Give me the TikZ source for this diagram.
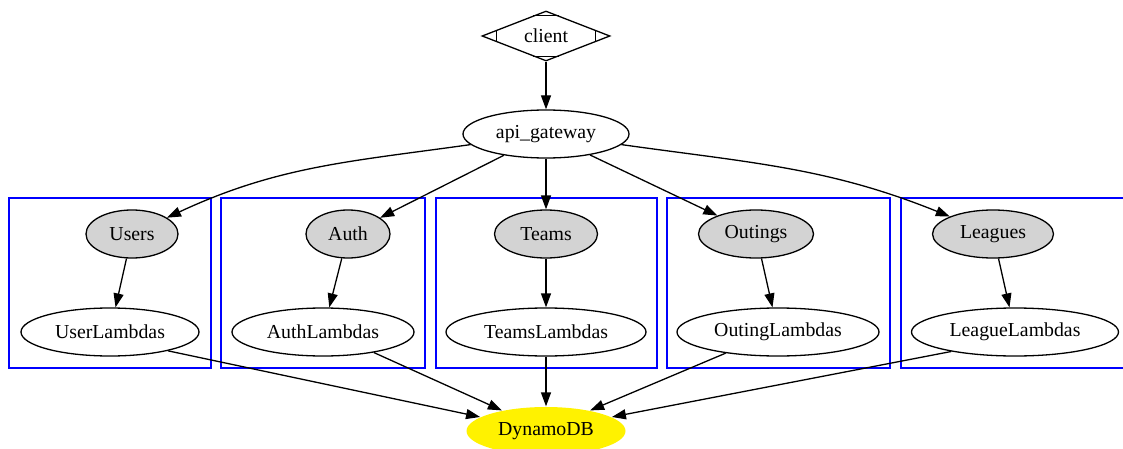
\documentclass[tikz,border=0pt]{standalone}
\usepackage{fontspec}
\setmainfont{Liberation Serif}
\usetikzlibrary{shapes.geometric,arrows.meta}
\definecolor{svcgrey}{RGB}{211,211,211}
\definecolor{grpblue}{RGB}{0,0,255}
\begin{document}
\begin{tikzpicture}[x=1pt, y=1pt, line width=1.3pt,
	every node/.style={font=\fontsize{19.8}{23}\selectfont, inner sep=0pt},
	svc/.style={ellipse, draw, fill=svcgrey, minimum height=48pt},
	lam/.style={ellipse, draw, minimum height=48pt},
	grp/.style={draw=grpblue},
	edge/.style={-{Triangle[length=14pt,width=10pt]}}]
	\useasboundingbox (0,0) rectangle (1123,-449);
	\draw[grp] (9,-198) rectangle (211,-368);
	\draw[grp] (221,-198) rectangle (425,-368);
	\draw[grp] (436,-198) rectangle (657,-368);
	\draw[grp] (667,-198) rectangle (890,-368);
	\draw[grp] (901,-198) rectangle (1140,-368);
	\node[diamond, draw, shape aspect=2.6, minimum width=128pt, minimum height=50pt] (client) at (546,-36) {client};
	\draw (client.west) ++(15,6) -- ++(0,-12);
	\draw (client.east) ++(-15,6) -- ++(0,-12);
	\draw (client.north) ++(-13,-5) -- ++(26,0);
	\draw (client.south) ++(-13,5) -- ++(26,0);
	\node[lam, minimum width=166pt] (api) at (546,-134) {api\_gateway};
	\node[svc, minimum width=92pt] (users) at (132,-234) {Users};
	\node[svc, minimum width=84pt] (auth) at (348,-234) {Auth};
	\node[svc, minimum width=103pt] (teams) at (546,-234) {Teams};
	\node[svc, minimum width=115pt] (outings) at (756,-234) {Outings};
	\node[svc, minimum width=121pt] (leagues) at (993,-234) {Leagues};
	\node[lam, minimum width=178pt] (userlam) at (110,-332) {UserLambdas};
	\node[lam, minimum width=182pt] (authlam) at (323,-332) {AuthLambdas};
	\node[lam, minimum width=200pt] (teamslam) at (546,-332) {TeamsLambdas};
	\node[lam, minimum width=202pt] (outinglam) at (778,-332) {OutingLambdas};
	\node[lam, minimum width=207pt] (leaguelam) at (1015,-332) {LeagueLambdas};
	\node[ellipse, fill=yellow, minimum width=159pt, minimum height=48pt] (dynamo) at (546,-431) {DynamoDB};
	\draw[edge] (client) -- (api);
	\draw[edge] (api) to[out=188,in=25] (users);
	\draw[edge] (api) -- (auth);
	\draw[edge] (api) -- (teams);
	\draw[edge] (api) -- (outings);
	\draw[edge] (api) to[out=-8,in=158] (leagues);
	\draw[edge] (users) -- (userlam);
	\draw[edge] (auth) -- (authlam);
	\draw[edge] (teams) -- (teamslam);
	\draw[edge] (outings) -- (outinglam);
	\draw[edge] (leagues) -- (leaguelam);
	\draw[edge] (userlam.-18) -- (dynamo.168);
	\draw[edge] (authlam.-22) -- (dynamo.155);
	\draw[edge] (teamslam) -- (dynamo);
	\draw[edge] (outinglam.202) -- (dynamo.25);
	\draw[edge] (leaguelam.197) -- (dynamo.12);
\end{tikzpicture}
\end{document}
